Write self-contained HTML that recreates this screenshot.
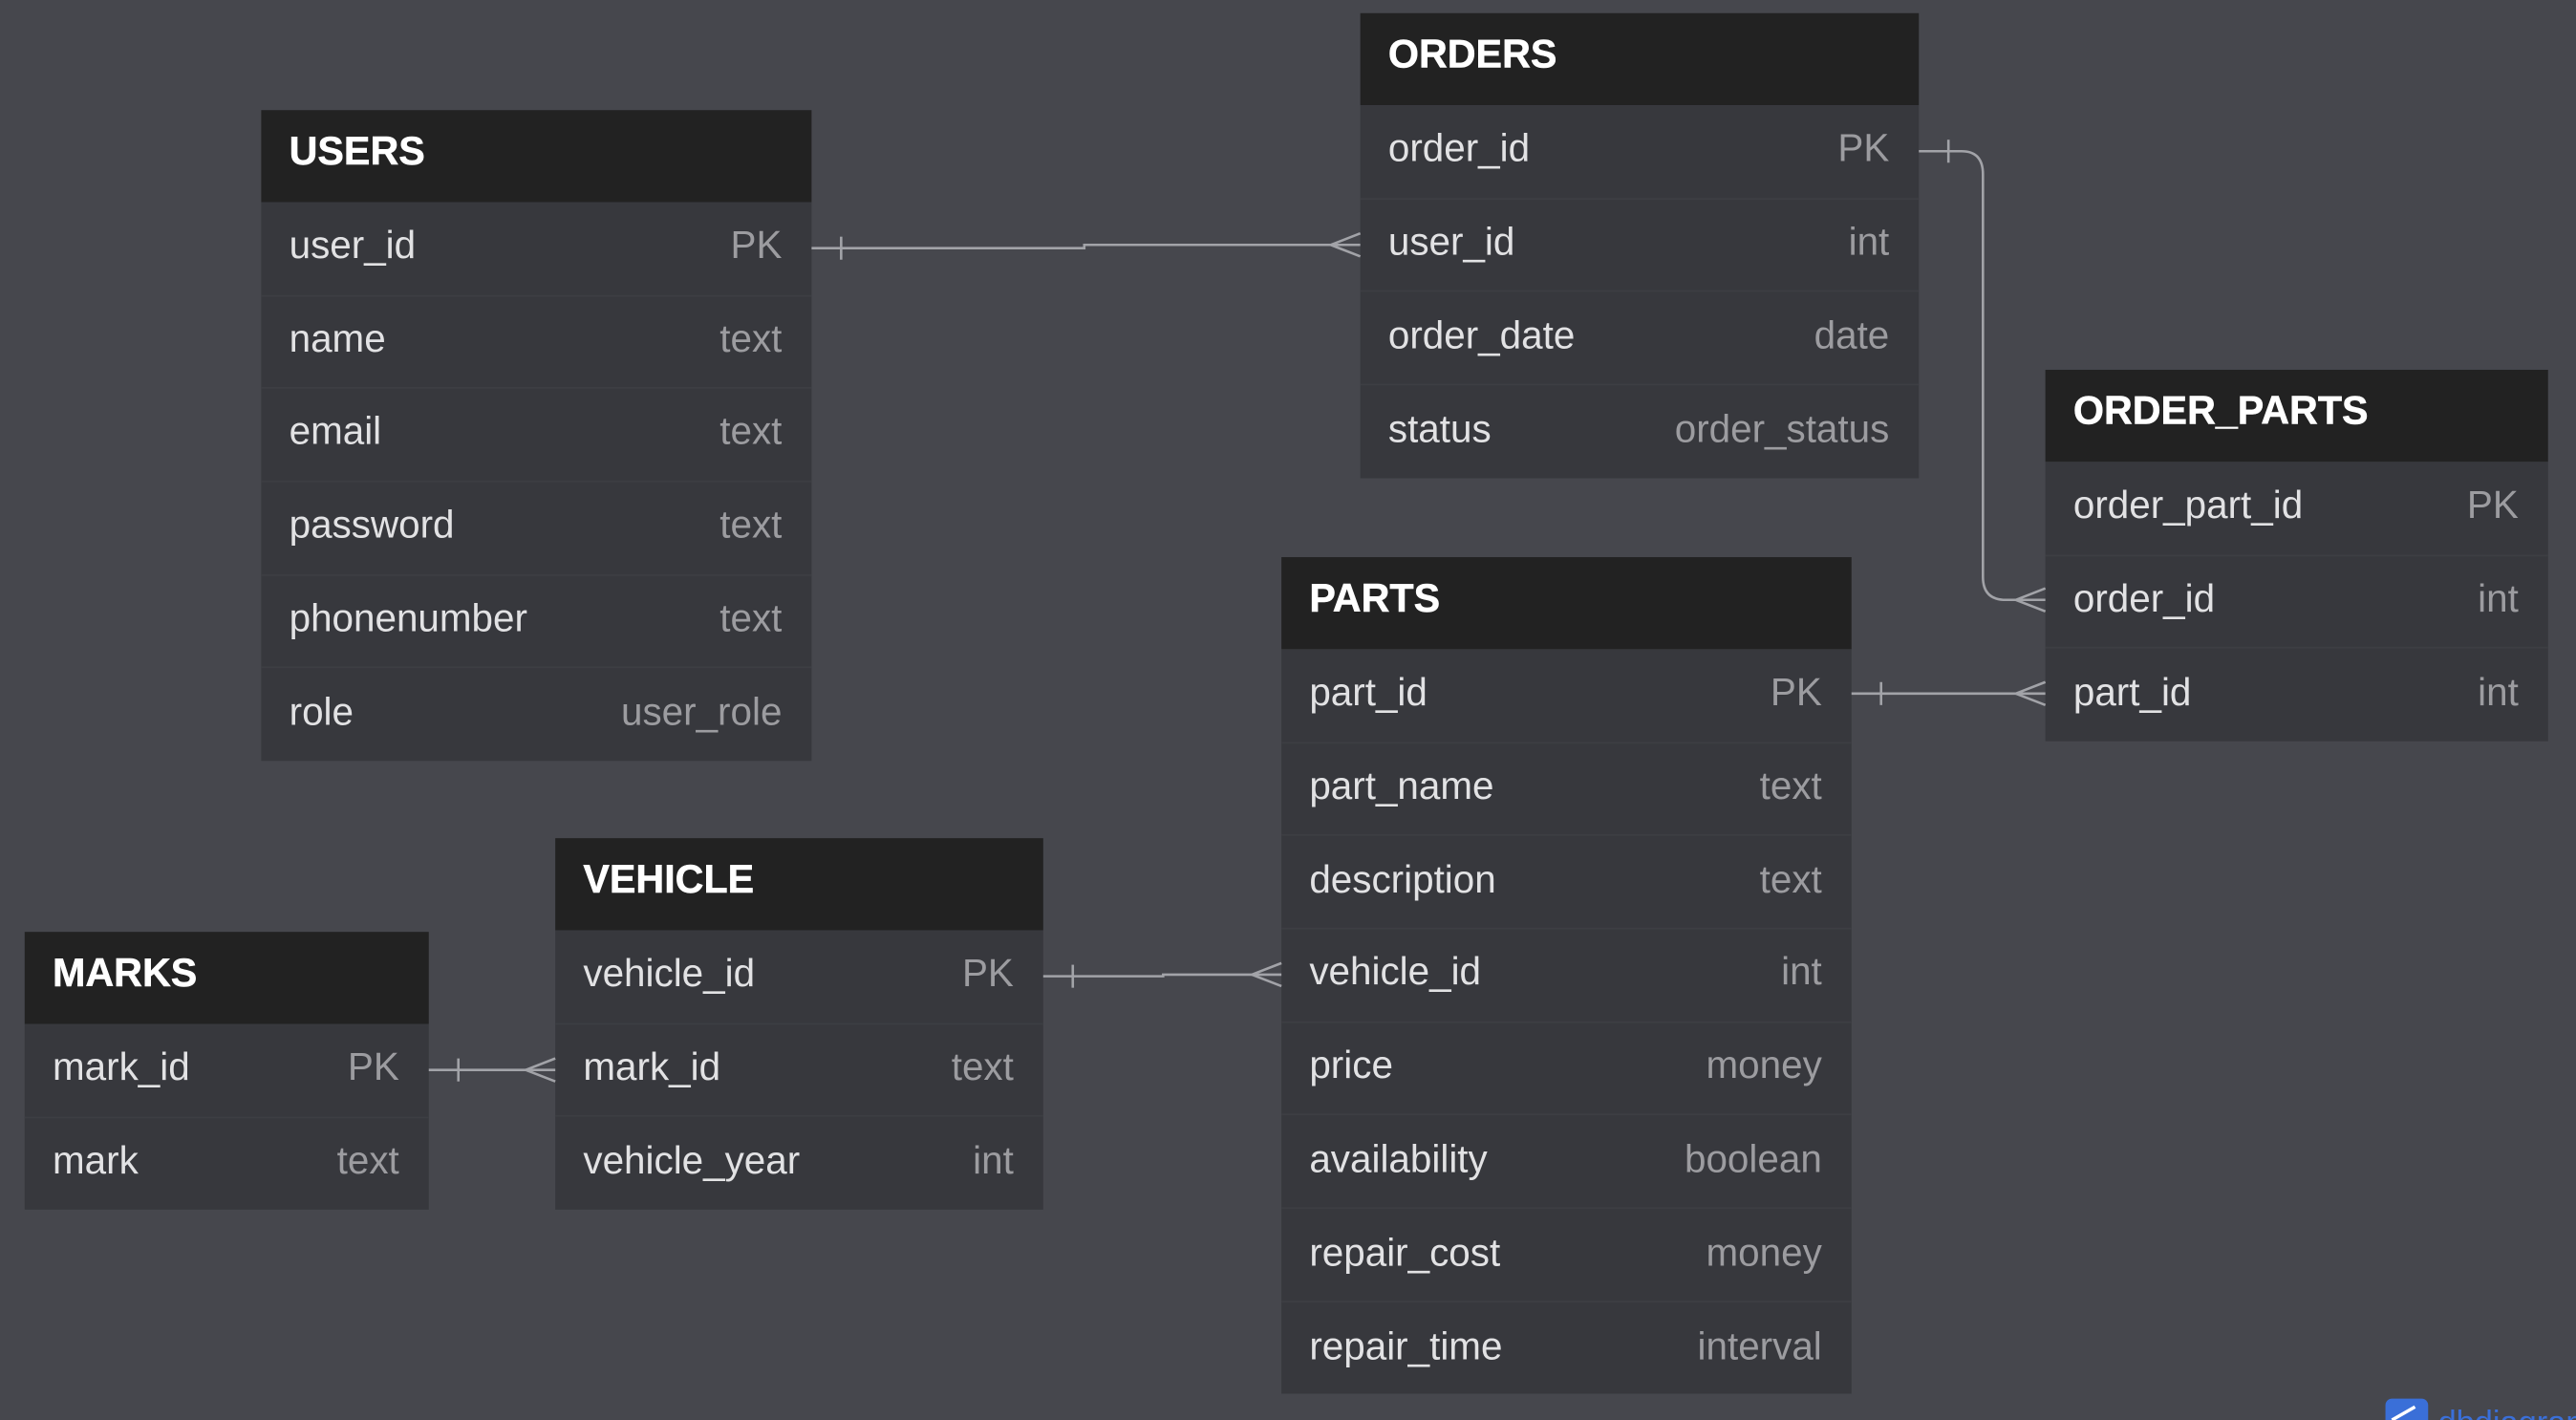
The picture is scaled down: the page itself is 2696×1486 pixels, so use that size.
<!DOCTYPE html>
<html><head><meta charset="utf-8"><style>
html,body{margin:0;padding:0;background:#46474d;}
svg{display:block;}
.h{font-family:"Liberation Sans",sans-serif;font-weight:bold;font-size:24px;fill:#fff;stroke:#fff;stroke-width:0.3;}
.f{font-family:"Liberation Sans",sans-serif;font-size:23.5px;fill:#e2e2e4;}
.t{font-family:"Liberation Sans",sans-serif;font-size:23.5px;fill:#9c9ca0;text-anchor:end;}
.c{stroke:#a2a3a8;stroke-width:1.5;fill:none;}
</style></head><body>
<svg width="2696" height="1486" viewBox="0 0 1568 864" preserveAspectRatio="none" xmlns="http://www.w3.org/2000/svg">
<rect width="1568" height="864" fill="#46474d"/>
<!-- USERS -->
<g>
<rect x="159" y="67" width="335" height="56" fill="#222"/>
<text class="h" x="176" y="100">USERS</text>
<rect x="159" y="123" width="335" height="340" fill="#37383d"/>
<g stroke="#3d3e43" stroke-width="1"><line x1="159" x2="494" y1="180" y2="180"/><line x1="159" x2="494" y1="236" y2="236"/><line x1="159" x2="494" y1="293" y2="293"/><line x1="159" x2="494" y1="350" y2="350"/><line x1="159" x2="494" y1="406" y2="406"/></g>
<text class="f" x="176" y="157">user_id</text><text class="t" x="476" y="157">PK</text>
<text class="f" x="176" y="214">name</text><text class="t" x="476" y="214">text</text>
<text class="f" x="176" y="270">email</text><text class="t" x="476" y="270">text</text>
<text class="f" x="176" y="327">password</text><text class="t" x="476" y="327">text</text>
<text class="f" x="176" y="384">phonenumber</text><text class="t" x="476" y="384">text</text>
<text class="f" x="176" y="441">role</text><text class="t" x="476" y="441">user_role</text>
</g>
<!-- ORDERS -->
<g>
<rect x="828" y="8" width="340" height="56" fill="#222"/>
<text class="h" x="845" y="41">ORDERS</text>
<rect x="828" y="64" width="340" height="227" fill="#37383d"/>
<g stroke="#3d3e43"><line x1="828" x2="1168" y1="121" y2="121"/><line x1="828" x2="1168" y1="177" y2="177"/><line x1="828" x2="1168" y1="234" y2="234"/></g>
<text class="f" x="845" y="98">order_id</text><text class="t" x="1150" y="98">PK</text>
<text class="f" x="845" y="155">user_id</text><text class="t" x="1150" y="155">int</text>
<text class="f" x="845" y="212">order_date</text><text class="t" x="1150" y="212">date</text>
<text class="f" x="845" y="269">status</text><text class="t" x="1150" y="269">order_status</text>
</g>
<!-- ORDER_PARTS -->
<g>
<rect x="1245" y="225" width="306" height="56" fill="#222"/>
<text class="h" x="1262" y="258">ORDER_PARTS</text>
<rect x="1245" y="281" width="306" height="170" fill="#37383d"/>
<g stroke="#3d3e43"><line x1="1245" x2="1551" y1="338" y2="338"/><line x1="1245" x2="1551" y1="394" y2="394"/></g>
<text class="f" x="1262" y="315">order_part_id</text><text class="t" x="1533" y="315">PK</text>
<text class="f" x="1262" y="372">order_id</text><text class="t" x="1533" y="372">int</text>
<text class="f" x="1262" y="429">part_id</text><text class="t" x="1533" y="429">int</text>
</g>
<!-- PARTS -->
<g>
<rect x="780" y="339" width="347" height="56" fill="#222"/>
<text class="h" x="797" y="372">PARTS</text>
<rect x="780" y="395" width="347" height="453" fill="#37383d"/>
<g stroke="#3d3e43"><line x1="780" x2="1127" y1="452" y2="452"/><line x1="780" x2="1127" y1="508" y2="508"/><line x1="780" x2="1127" y1="565" y2="565"/><line x1="780" x2="1127" y1="622" y2="622"/><line x1="780" x2="1127" y1="678" y2="678"/><line x1="780" x2="1127" y1="735" y2="735"/><line x1="780" x2="1127" y1="792" y2="792"/></g>
<text class="f" x="797" y="429">part_id</text><text class="t" x="1109" y="429">PK</text>
<text class="f" x="797" y="486">part_name</text><text class="t" x="1109" y="486">text</text>
<text class="f" x="797" y="543">description</text><text class="t" x="1109" y="543">text</text>
<text class="f" x="797" y="599">vehicle_id</text><text class="t" x="1109" y="599">int</text>
<text class="f" x="797" y="656">price</text><text class="t" x="1109" y="656">money</text>
<text class="f" x="797" y="713">availability</text><text class="t" x="1109" y="713">boolean</text>
<text class="f" x="797" y="770">repair_cost</text><text class="t" x="1109" y="770">money</text>
<text class="f" x="797" y="827">repair_time</text><text class="t" x="1109" y="827">interval</text>
</g>
<!-- VEHICLE -->
<g>
<rect x="338" y="510" width="297" height="56" fill="#222"/>
<text class="h" x="355" y="543">VEHICLE</text>
<rect x="338" y="566" width="297" height="170" fill="#37383d"/>
<g stroke="#3d3e43"><line x1="338" x2="635" y1="623" y2="623"/><line x1="338" x2="635" y1="679" y2="679"/></g>
<text class="f" x="355" y="600">vehicle_id</text><text class="t" x="617" y="600">PK</text>
<text class="f" x="355" y="657">mark_id</text><text class="t" x="617" y="657">text</text>
<text class="f" x="355" y="714">vehicle_year</text><text class="t" x="617" y="714">int</text>
</g>
<!-- MARKS -->
<g>
<rect x="15" y="567" width="246" height="56" fill="#222"/>
<text class="h" x="32" y="600">MARKS</text>
<rect x="15" y="623" width="246" height="113" fill="#37383d"/>
<line stroke="#3d3e43" x1="15" x2="261" y1="680" y2="680"/>
<text class="f" x="32" y="657">mark_id</text><text class="t" x="243" y="657">PK</text>
<text class="f" x="32" y="714">mark</text><text class="t" x="243" y="714">text</text>
</g>
<!-- connectors -->
<path class="c" d="M494 151 H660 V149 H828"/>
<path class="c" d="M512 144 V158"/>
<path class="c" d="M810 149 L828 142 M810 149 L828 156"/>

<path class="c" d="M1168 92 H1194 Q1207 92 1207 106 V351 Q1207 365 1221 365 H1245"/>
<path class="c" d="M1186 85 V99"/>
<path class="c" d="M1227 365 L1245 358 M1227 365 L1245 372"/>

<path class="c" d="M1127 422 H1245"/>
<path class="c" d="M1145 415 V429"/>
<path class="c" d="M1227 422 L1245 415 M1227 422 L1245 429"/>

<path class="c" d="M635 594 H708 V593 H780"/>
<path class="c" d="M653 587 V601"/>
<path class="c" d="M762 593 L780 586 M762 593 L780 600"/>

<path class="c" d="M261 651 H338"/>
<path class="c" d="M279 644 V658"/>
<path class="c" d="M320 651 L338 644 M320 651 L338 658"/>

<!-- logo -->
<rect x="1452" y="851" width="26" height="26" rx="4" fill="#3a6fd8"/>
<path d="M1456 864 L1470 856" stroke="#fff" stroke-width="2"/>
<text x="1484" y="872" font-family="Liberation Sans,sans-serif" font-size="20" fill="#3a6fd8">dbdiagram</text>
</svg>
</body></html>
